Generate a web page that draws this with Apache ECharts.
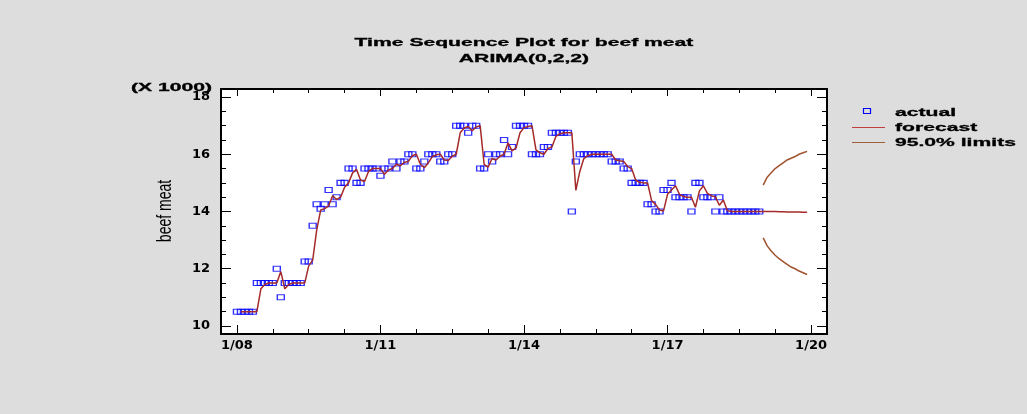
<!DOCTYPE html>
<html>
<head>
<meta charset="utf-8">
<script src="https://cdn.jsdelivr.net/npm/echarts@6/dist/echarts.min.js"></script>
<style>
  html, body { margin: 0; padding: 0; background: #dddddd; }
  #chart { width: 1027px; height: 414px; }
</style>
</head>
<body>
<div id="chart"></div>
<script>
// ---- data (monthly, index 0 = Jan 2008) ----
const actualValues = [
  10.5, 10.5, 10.5, 10.5, 10.5, 11.5, 11.5, 11.5, 11.5, 11.5, 12.0, 11.0,
  11.5, 11.5, 11.5, 11.5, 11.5, 12.25, 12.25, 13.5, 14.25, 14.1, 14.25, 14.75,
  14.25, 14.5, 15.0, 15.0, 15.5, 15.5, 15.0, 15.0, 15.5, 15.5, 15.5, 15.5,
  15.25, 15.5, 15.5, 15.75, 15.5, 15.75, 15.75, 16.0, 16.0, 15.5, 15.5, 15.75,
  16.0, 16.0, 16.0, 15.75, 15.75, 16.0, 16.0, 17.0, 17.0, 17.0, 16.75, 17.0,
  17.0, 15.5, 15.5, 16.0, 15.75, 16.0, 16.0, 16.5, 16.0, 16.25, 17.0, 17.0,
  17.0, 17.0, 16.0, 16.0, 16.0, 16.25, 16.25, 16.75, 16.75, 16.75, 16.75, 16.75,
  14.0, 15.75, 16.0, 16.0, 16.0, 16.0, 16.0, 16.0, 16.0, 16.0, 15.75, 15.75,
  15.75, 15.5, 15.5, 15.0, 15.0, 15.0, 15.0, 14.25, 14.25, 14.0, 14.0, 14.75,
  14.75, 15.0, 14.5, 14.5, 14.5, 14.5, 14.0, 15.0, 15.0, 14.5, 14.5, 14.5,
  14.0, 14.5, 14.0, 14.0, 14.0, 14.0, 14.0, 14.0, 14.0, 14.0, 14.0, 14.0
];
const forecastStart = 1;
const forecastValues = [
  10.5, 10.5, 10.5, 10.5, 10.5, 11.3, 11.45, 11.5, 11.5, 11.5, 11.9,
  11.3, 11.45, 11.5, 11.5, 11.5, 11.5, 12.1, 12.3, 13.35, 14.05, 14.1, 14.2,
  14.55, 14.42, 14.5, 14.85, 15.0, 15.35, 15.47, 15.1, 15.05, 15.4, 15.5, 15.5,
  15.5, 15.3, 15.45, 15.5, 15.65, 15.6, 15.72, 15.75, 15.95, 16.0, 15.65, 15.53,
  15.7, 15.92, 15.98, 16.0, 15.8, 15.78, 15.93, 16.0, 16.75, 16.92, 16.97, 16.82,
  16.95, 17.0, 15.65, 15.55, 15.85, 15.8, 15.93, 16.0, 16.4, 16.12, 16.22, 16.75,
  16.93, 16.97, 17.0, 16.15, 16.05, 16.0, 16.2, 16.25, 16.62, 16.72, 16.75, 16.75,
  16.75, 14.74, 15.4, 15.85, 15.95, 16.0, 16.0, 16.0, 16.0, 16.0, 16.0, 15.8,
  15.77, 15.75, 15.57, 15.5, 15.1, 15.02, 15.0, 15.0, 14.38, 14.25, 14.05, 14.02,
  14.6, 14.75, 14.9, 14.6, 14.52, 14.5, 14.5, 14.15, 14.72, 14.9, 14.63, 14.55,
  14.51, 14.22, 14.4, 14.03, 14.0, 14.0, 14.0, 14.0, 14.0, 14.0, 14.0, 14.0,
  14.0, 14.0, 14.0, 14.0, 13.99, 13.99, 13.98, 13.98, 13.98, 13.98, 13.97, 13.97
];
const limitStart = 132;
const upperValues = [14.92, 15.2, 15.35, 15.5, 15.6, 15.7, 15.8, 15.86, 15.92, 16.0, 16.05, 16.1];
const lowerValues = [13.08, 12.8, 12.62, 12.47, 12.35, 12.25, 12.15, 12.06, 12.0, 11.92, 11.86, 11.8];

const xTickValues = [0, 36, 72, 108, 144];
const xTickLabels = ['1/08', '1/11', '1/14', '1/17', '1/20'];
const xMinorValues = [9, 18, 27, 45, 54, 63, 81, 90, 99, 117, 126, 135];
const yTickValues = [10, 12, 14, 16, 18];
const yTickLabels = ['10', '12', '14', '16', '18'];
const yMinorValues = [10.5, 11, 11.5, 12.5, 13, 13.5, 14.5, 15, 15.5, 16.5, 17, 17.5];

const seriesNames = ['actual', 'forecast', '95.0% limits'];

// ---- chart ----
const chart = echarts.init(document.getElementById('chart'), null, { renderer: 'canvas' });
const labelFont = { fontFamily: 'DejaVu Sans', fontWeight: 'bold', fontSize: 13, color: '#000' };
const tickStyle = { color: '#000', width: 1 };

function xAxisDef(position, values, len, withLabels) {
  return {
    type: 'value', position: position, min: -4, max: 148,
    axisLine: { show: false, onZero: false }, splitLine: { show: false },
    axisTick: { show: true, inside: true, length: len, customValues: values, lineStyle: tickStyle },
    axisLabel: withLabels ? Object.assign({
      show: true, customValues: values, margin: 5,
      formatter: v => xTickLabels[xTickValues.indexOf(v)]
    }, labelFont) : { show: false }
  };
}
function yAxisDef(position, values, len, withLabels) {
  return {
    type: 'value', position: position, min: 9.72, max: 18.28,
    axisLine: { show: false, onZero: false }, splitLine: { show: false },
    axisTick: { show: true, inside: true, length: len, customValues: values, lineStyle: tickStyle },
    axisLabel: withLabels ? Object.assign({
      show: true, customValues: values, margin: 11,
      formatter: v => yTickLabels[yTickValues.indexOf(v)]
    }, labelFont) : { show: false }
  };
}

const textFont = 'bold 11px "Liberation Sans", Arial, sans-serif';
function txt(text, x, y, align, extra) {
  return Object.assign({
    type: 'text', x: x, y: y, scaleX: 1.92, silent: true,
    style: { text: text, font: textFont, fill: '#000', stroke: '#000', lineWidth: 0.3,
             align: align, textAlign: align,
             verticalAlign: 'middle', textVerticalAlign: 'middle' }
  }, extra || {});
}

const option = {
  backgroundColor: '#dddddd',
  animation: false,
  grid: { left: 221, top: 89, width: 606, height: 245, show: true,
          backgroundColor: '#ffffff', borderColor: '#000000', borderWidth: 2 },
  xAxis: [
    xAxisDef('bottom', xTickValues, 9, true),
    xAxisDef('bottom', xMinorValues, 5, false),
    xAxisDef('top', xTickValues, 7, false),
    xAxisDef('top', xMinorValues, 4, false)
  ],
  yAxis: [
    yAxisDef('left', yTickValues, 10, true),
    yAxisDef('left', yMinorValues, 5, false),
    yAxisDef('right', yTickValues, 10, false),
    yAxisDef('right', yMinorValues, 5, false)
  ],
  series: [
    {
      name: seriesNames[0], type: 'scatter', z: 2,
      symbol: 'rect', symbolSize: [7, 5],
      itemStyle: { color: 'rgba(0,0,0,0)', borderColor: '#0000ff', borderWidth: 1.2 },
      data: actualValues.map((v, i) => [i, v])
    },
    {
      name: seriesNames[1], type: 'line', z: 3, showSymbol: false, symbol: 'none',
      lineStyle: { color: '#a52a2a', width: 1.5 }, itemStyle: { color: '#a52a2a' },
      data: forecastValues.map((v, i) => [i + forecastStart, v])
    },
    {
      name: seriesNames[2], type: 'line', z: 3, showSymbol: false, symbol: 'none',
      lineStyle: { color: '#a0522d', width: 1.5 }, itemStyle: { color: '#a0522d' },
      data: upperValues.map((v, i) => [i + limitStart, v])
    },
    {
      name: seriesNames[2], type: 'line', z: 3, showSymbol: false, symbol: 'none',
      lineStyle: { color: '#a0522d', width: 1.5 }, itemStyle: { color: '#a0522d' },
      data: lowerValues.map((v, i) => [i + limitStart, v])
    }
  ],
  graphic: [
    txt('Time Sequence Plot for beef meat', 524, 43, 'center'),
    txt('ARIMA(0,2,2)', 524, 59, 'center'),
    txt('(X 1000)', 212, 88, 'right'),
    {
      type: 'text', x: 165, y: 211, rotation: Math.PI / 2, scaleY: 1.5, silent: true,
      style: { text: 'beef meat', font: '14px "Liberation Sans", Arial, sans-serif', fill: '#000',
               align: 'center', textAlign: 'center', verticalAlign: 'middle', textVerticalAlign: 'middle' }
    },
    // legend
    { type: 'rect', silent: true, shape: { x: 863.5, y: 108.5, width: 7, height: 5 },
      style: { fill: 'none', stroke: '#0000ff', lineWidth: 1.2 } },
    txt(seriesNames[0], 895, 113, 'left'),
    { type: 'line', silent: true, shape: { x1: 852, y1: 127.5, x2: 885, y2: 127.5 },
      style: { stroke: '#c04040', lineWidth: 1 } },
    txt(seriesNames[1], 895, 128, 'left'),
    { type: 'line', silent: true, shape: { x1: 852, y1: 142.5, x2: 885, y2: 142.5 },
      style: { stroke: '#a0603a', lineWidth: 1 } },
    txt(seriesNames[2], 895, 143, 'left')
  ]
};
chart.setOption(option);
</script>
</body>
</html>
